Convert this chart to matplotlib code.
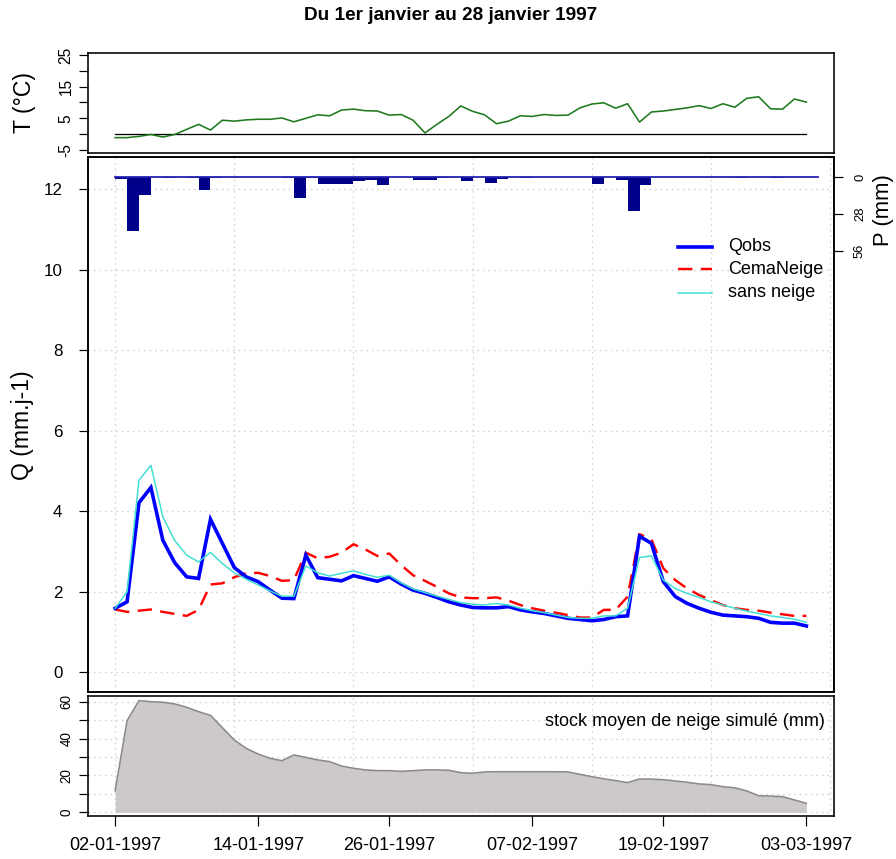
import matplotlib
matplotlib.use("Agg")
import matplotlib.pyplot as plt

plt.rcParams['font.family'] = ['Liberation Sans', 'DejaVu Sans']

# Daily series, 59 time steps
temperature = [-1.1, -1.1, -0.7, -0.1, -0.9, -0.1, 1.5, 3.1, 1.3, 4.4,
               4.1, 4.5, 4.7, 4.7, 5.1, 3.9, 5.0, 6.1, 5.8, 7.6,
               7.9, 7.4, 7.3, 6.0, 6.2, 4.4, 0.4, 3.1, 5.6, 8.9,
               7.2, 6.1, 3.3, 4.1, 5.8, 5.6, 6.2, 5.9, 6.0, 8.3,
               9.5, 9.9, 8.2, 9.6, 3.8, 7.0, 7.3, 7.8, 8.3, 9.0,
               8.1, 9.6, 8.5, 11.3, 11.8, 8.0, 7.9, 11.1, 10.1]

precipitation = [1.2, 41.0, 13.7, 0.0, 0.5, 0.0, 0.8, 9.9, 0.6, 0.0,
                 0.0, 0.0, 0.0, 0.0, 0.5, 16.3, 0.5, 4.9, 4.9, 5.3,
                 3.3, 2.0, 6.1, 0.0, 0.0, 2.0, 2.0, 0.4, 0.0, 2.8,
                 0.0, 4.6, 1.5, 0.0, 0.6, 0.0, 0.0, 0.0, 0.0, 0.0,
                 5.1, 0.3, 2.0, 26.2, 5.9, 0.0, 0.0, 0.0, 0.0, 0.0,
                 0.0, 0.0, 0.6, 0.0, 0.0, 0.6, 0.0, 0.0, 0.0]

q_obs = [1.59, 1.75, 4.21, 4.59, 3.28, 2.72, 2.37, 2.33, 3.80, 3.20,
         2.60, 2.37, 2.25, 2.04, 1.84, 1.83, 2.91, 2.35, 2.31, 2.27,
         2.40, 2.33, 2.26, 2.37, 2.19, 2.04, 1.96, 1.86, 1.75, 1.67,
         1.61, 1.60, 1.60, 1.63, 1.55, 1.50, 1.46, 1.40, 1.34, 1.31,
         1.28, 1.31, 1.38, 1.40, 3.38, 3.20, 2.25, 1.88, 1.71, 1.59,
         1.49, 1.42, 1.40, 1.38, 1.34, 1.24, 1.22, 1.22, 1.15]

q_cemaneige = [1.56, 1.50, 1.53, 1.56, 1.50, 1.45, 1.40, 1.55, 2.18, 2.21,
               2.36, 2.46, 2.47, 2.39, 2.27, 2.29, 2.97, 2.83, 2.87, 2.97,
               3.18, 3.05, 2.89, 2.95, 2.66, 2.41, 2.27, 2.12, 1.96, 1.86,
               1.84, 1.84, 1.86, 1.78, 1.67, 1.59, 1.53, 1.48, 1.42, 1.36,
               1.36, 1.55, 1.55, 1.88, 3.43, 3.30, 2.58, 2.29, 2.08, 1.92,
               1.79, 1.67, 1.59, 1.55, 1.53, 1.48, 1.44, 1.40, 1.40]

q_sans_neige = [1.59, 2.00, 4.77, 5.14, 3.86, 3.27, 2.91, 2.74, 2.98, 2.70,
                2.47, 2.31, 2.17, 2.02, 1.89, 1.89, 2.64, 2.47, 2.39, 2.46,
                2.52, 2.43, 2.36, 2.41, 2.22, 2.07, 1.98, 1.89, 1.81, 1.73,
                1.69, 1.67, 1.71, 1.67, 1.59, 1.53, 1.48, 1.42, 1.36, 1.34,
                1.34, 1.40, 1.40, 1.59, 2.85, 2.89, 2.29, 2.08, 1.96, 1.86,
                1.75, 1.67, 1.59, 1.52, 1.46, 1.40, 1.36, 1.32, 1.24]

snow_stock = [11.7, 49.7, 60.6, 60.0, 59.7, 58.8, 57.0, 54.6, 52.6, 45.9,
              39.2, 34.7, 31.6, 29.3, 28.0, 31.1, 29.8, 28.4, 27.5, 25.1,
              23.9, 23.0, 22.6, 22.6, 22.2, 22.6, 23.0, 23.0, 22.8, 21.5,
              21.2, 21.9, 22.0, 22.0, 22.0, 22.0, 22.0, 22.0, 21.9, 20.6,
              19.3, 18.2, 17.2, 16.1, 18.1, 18.0, 17.7, 17.0, 16.3, 15.4,
              15.0, 13.9, 13.3, 11.6, 9.0, 8.8, 8.5, 6.7, 4.9]

date_tick_index = [0, 12, 23, 35, 46, 58]
date_tick_labels = ["02-01-1997", "14-01-1997", "26-01-1997",
                    "07-02-1997", "19-02-1997", "03-03-1997"]

title = "Du 1er janvier au 28 janvier 1997"

# ---------------------------------------------------------------------------
W, H, DPI = 896, 859, 100
fig = plt.figure(figsize=(W / DPI, H / DPI), dpi=DPI)
PT = 72.0 / DPI  # points per pixel

idx = list(range(len(q_obs)))
n = len(idx)
XLIM = (-0.04 * (n - 1), (n - 1) * 1.04)
GRID_X = list(range(0, 61, 10))
GRID_KW = dict(color="#d3d3d3", lw=1.0, dashes=(1.2, 2.8), zorder=0)


def axes_px(left, top, right, bottom):
    return fig.add_axes([left / W, 1 - bottom / H, (right - left) / W, (bottom - top) / H])


def style_frame(ax):
    for s in ax.spines.values():
        s.set_linewidth(1.6 * PT)
        s.set_color("black")
    ax.tick_params(direction="out", length=9 * PT, width=1.2 * PT, color="black")


L, R = 87.5, 834.0

# ---- Temperature panel ----
ax_t = axes_px(L, 52.7, R, 152.7)
style_frame(ax_t)
ax_t.set_xlim(*XLIM)
ax_t.set_ylim(-5.85, 25.7)
ax_t.plot([idx[0], idx[-1]], [0, 0], color="black", lw=1.3 * PT)
ax_t.plot(idx, temperature, color="#1f7a1f", lw=1.6 * PT)
ax_t.set_xticks([])
ax_t.set_yticks([-5, 0, 5, 10, 15, 20, 25])
ax_t.set_yticklabels(["-5", "", "5", "", "15", "", "25"], fontsize=15.5 * PT,
                     rotation=90, va="center")
ax_t.tick_params(axis="y", pad=5 * PT)

# ---- Discharge panel ----
ax_q = axes_px(L, 157.3, R, 692.0)
style_frame(ax_q)
ax_q.set_xlim(*XLIM)
ax_q.set_ylim(-0.49, 12.79)
for gx in GRID_X:
    ax_q.axvline(gx, **GRID_KW)
for gy in range(0, 13, 2):
    ax_q.axhline(gy, **GRID_KW)

style_obs = dict(color="#0000ff", lw=3.6 * PT, solid_joinstyle="miter")
style_cema = dict(color="#ff0000", lw=2.4 * PT, dashes=(6, 3.5))
style_sans = dict(color="#40e0d0", lw=1.5 * PT)

ax_q.plot(idx, q_cemaneige, zorder=3, **style_cema)
ax_q.plot(idx, q_obs, zorder=4, **style_obs)
ax_q.plot(idx, q_sans_neige, zorder=5, **style_sans)

ax_q.set_xticks([])
ax_q.set_yticks(range(0, 13, 2))
ax_q.set_yticklabels([str(v) for v in range(0, 13, 2)], fontsize=17 * PT)
ax_q.tick_params(axis="y", pad=16 * PT)

# Precipitation on an inverted secondary axis
ax_p = ax_q.twinx()
style_frame(ax_p)
ax_p.set_ylim(392.8, -15.1)
ax_p.bar(idx, precipitation, width=1.0, align="edge", color="#00008b",
         edgecolor="none", zorder=2)
ax_p.plot([0, len(precipitation)], [0, 0], color="#2323b0", lw=1.8 * PT, zorder=3)
ax_p.set_yticks([0, 28, 56])
ax_p.set_yticklabels(["0", "28", "56"], fontsize=13 * PT, rotation=90, va="center")
ax_p.tick_params(axis="y", pad=11 * PT)

# Legend drawn in axes fraction coordinates
leg_rows = [("Qobs", style_obs, 0.8328), ("CemaNeige", style_cema, 0.7905),
            ("sans neige", style_sans, 0.7468)]
for label, st, yy in leg_rows:
    ax_q.plot([0.7906, 0.8362], [yy, yy], transform=ax_q.transAxes,
              clip_on=False, zorder=6, **st)
    ax_q.text(0.8585, yy, label, transform=ax_q.transAxes, fontsize=18 * PT,
              va="center", ha="left", zorder=6)

# ---- Snow stock panel ----
ax_s = axes_px(L, 696.0, R, 816.0)
style_frame(ax_s)
ax_s.set_xlim(*XLIM)
ax_s.set_ylim(-2.0, 63.1)
for gx in GRID_X:
    ax_s.axvline(gx, **GRID_KW)
for gy in range(0, 61, 10):
    ax_s.axhline(gy, **GRID_KW)
ax_s.fill_between(idx, 0, snow_stock, color="#cdc9c9", lw=0, zorder=1)
ax_s.plot(idx, snow_stock, color="#8b8989", lw=1.6 * PT, zorder=2)
ax_s.set_yticks(range(0, 61, 10))
ax_s.set_yticklabels(["0", "", "20", "", "40", "", "60"], fontsize=13.5 * PT,
                     rotation=90, va="center")
ax_s.tick_params(axis="y", pad=5 * PT)
ax_s.set_xticks(date_tick_index)
ax_s.set_xticklabels(date_tick_labels, fontsize=18 * PT)
ax_s.tick_params(axis="x", length=10 * PT, pad=11 * PT)
ax_s.text(0.988, 0.786, "stock moyen de neige simulé (mm)", transform=ax_s.transAxes,
          fontsize=18 * PT, ha="right", va="center")

# ---- Titles and axis labels ----
fig.text(451 / W, 1 - 15 / H, title, fontsize=19 * PT, fontweight="bold",
         ha="center", va="center")
fig.text(24 / W, 1 - 102.7 / H, "T (°C)", fontsize=23 * PT, rotation=90,
         ha="center", va="center")
fig.text(22 / W, 1 - 424.7 / H, "Q (mm.j-1)", fontsize=23 * PT, rotation=90,
         ha="center", va="center")
fig.text(883 / W, 1 - 210 / H, "P (mm)", fontsize=22 * PT, rotation=90,
         ha="center", va="center")

fig.savefig("out.png", dpi=DPI)
